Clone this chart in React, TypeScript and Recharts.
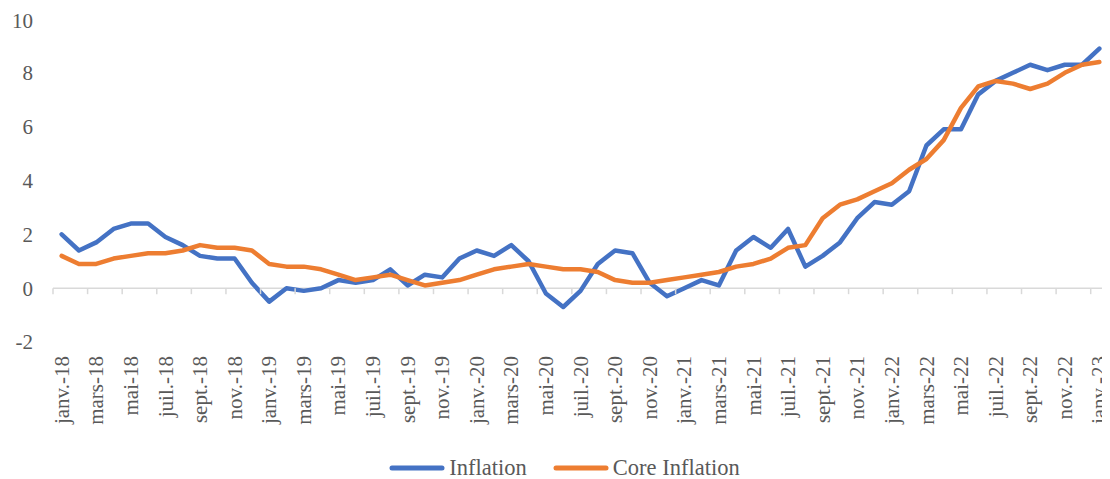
import React from "react";
import { LineChart, Line, XAxis, YAxis, ReferenceLine, Legend } from "recharts";

const MONTH_NAMES = ["janv.", "févr.", "mars", "avr.", "mai", "juin", "juil.", "août", "sept.", "oct.", "nov.", "déc."];
const YEARS = ["18", "19", "20", "21", "22", "23"];

const INFLATION = [
  2.0, 1.4, 1.7, 2.2, 2.4, 2.4, 1.9, 1.6, 1.2, 1.1, 1.1, 0.2,
  -0.5, 0.0, -0.1, 0.0, 0.3, 0.2, 0.3, 0.7, 0.1, 0.5, 0.4, 1.1,
  1.4, 1.2, 1.6, 1.0, -0.2, -0.7, -0.1, 0.9, 1.4, 1.3, 0.2, -0.3,
  0.0, 0.3, 0.1, 1.4, 1.9, 1.5, 2.2, 0.8, 1.2, 1.7, 2.6, 3.2,
  3.1, 3.6, 5.3, 5.9, 5.9, 7.2, 7.7, 8.0, 8.3, 8.1, 8.3, 8.3,
  8.9,
];

const CORE_INFLATION = [
  1.2, 0.9, 0.9, 1.1, 1.2, 1.3, 1.3, 1.4, 1.6, 1.5, 1.5, 1.4,
  0.9, 0.8, 0.8, 0.7, 0.5, 0.3, 0.4, 0.5, 0.3, 0.1, 0.2, 0.3,
  0.5, 0.7, 0.8, 0.9, 0.8, 0.7, 0.7, 0.6, 0.3, 0.2, 0.2, 0.3,
  0.4, 0.5, 0.6, 0.8, 0.9, 1.1, 1.5, 1.6, 2.6, 3.1, 3.3, 3.6,
  3.9, 4.4, 4.8, 5.5, 6.7, 7.5, 7.7, 7.6, 7.4, 7.6, 8.0, 8.3,
  8.4,
];

const Y_TICKS = [-2, 0, 2, 4, 6, 8, 10];

const MONTHS: string[] = [];
YEARS.forEach((y) => MONTH_NAMES.forEach((m) => MONTHS.push(`${m}-${y}`)));

const data = INFLATION.map((v, i) => ({
  month: MONTHS[i],
  inflation: v,
  core: CORE_INFLATION[i],
}));

const FONT = "'Liberation Serif', 'Times New Roman', serif";
const TEXT_COLOR = "#595959";
const BLUE = "#4472C4";
const ORANGE = "#ED7D31";

const W = 1102;
const H = 470;
const M_LEFT = 5;
const Y_W = 40;
const M_RIGHT = 2;
const M_TOP = 11;
const PLOT_H = 323;
const PLOT_W = W - M_LEFT - Y_W - M_RIGHT;
const BAND = PLOT_W / data.length;
const PLOT_BOTTOM = M_TOP + PLOT_H;
const ZERO_Y = M_TOP + PLOT_H * (10 / 12);

const XTick = (props: any) => {
  const { x, payload } = props;
  const ty = PLOT_BOTTOM + 14;
  const lx = x - BAND / 2;
  return (
    <g>
      <line x1={lx} x2={lx} y1={ZERO_Y} y2={ZERO_Y + 6} stroke="#d9d9d9" strokeWidth={1.5} />
      <text
        x={x}
        y={ty}
        dy="0.34em"
        transform={`rotate(-90, ${x}, ${ty})`}
        textAnchor="end"
        fill={TEXT_COLOR}
        fontSize={21}
        fontFamily={FONT}
      >
        {payload.value}
      </text>
    </g>
  );
};

const LegendContent = () => (
  <div
    style={{
      display: "flex",
      justifyContent: "center",
      alignItems: "center",
      height: 20,
      paddingLeft: 8,
      fontFamily: FONT,
      fontSize: 22.5,
      color: TEXT_COLOR,
    }}
  >
    {[
      { c: BLUE, t: "Inflation" },
      { c: ORANGE, t: "Core Inflation" },
    ].map((it, i) => (
      <div key={i} style={{ display: "flex", alignItems: "center", marginLeft: i ? 26 : 0 }}>
        <svg width={56} height={8} style={{ display: "block" }}>
          <line x1={3} x2={53} y1={4} y2={4} stroke={it.c} strokeWidth={5} strokeLinecap="round" />
        </svg>
        <span style={{ marginLeft: 4, lineHeight: "20px" }}>{it.t}</span>
      </div>
    ))}
  </div>
);

export default function App() {
  return (
    <LineChart
      width={W}
      height={H}
      data={data}
      margin={{ top: M_TOP, right: M_RIGHT, left: M_LEFT, bottom: 0 }}
    >
      <XAxis
        dataKey="month"
        interval={1}
        tickLine={false}
        axisLine={false}
        padding={{ left: BAND / 2, right: BAND / 2 }}
        height={H - PLOT_BOTTOM - 20}
        tick={<XTick />}
      />
      <YAxis
        domain={[-2, 10]}
        ticks={Y_TICKS}
        width={Y_W}
        axisLine={false}
        tickLine={false}
        tickMargin={14}
        tick={{ fill: TEXT_COLOR, fontSize: 21, fontFamily: FONT }}
      />
      <ReferenceLine y={0} stroke="#d9d9d9" strokeWidth={1.5} />
      <Legend verticalAlign="bottom" height={20} content={<LegendContent />} />
      <Line
        type="linear"
        dataKey="inflation"
        name="Inflation"
        stroke={BLUE}
        strokeWidth={4.5}
        dot={false}
        strokeLinecap="round"
        strokeLinejoin="round"
        isAnimationActive={false}
      />
      <Line
        type="linear"
        dataKey="core"
        name="Core Inflation"
        stroke={ORANGE}
        strokeWidth={4.5}
        dot={false}
        strokeLinecap="round"
        strokeLinejoin="round"
        isAnimationActive={false}
      />
    </LineChart>
  );
}
